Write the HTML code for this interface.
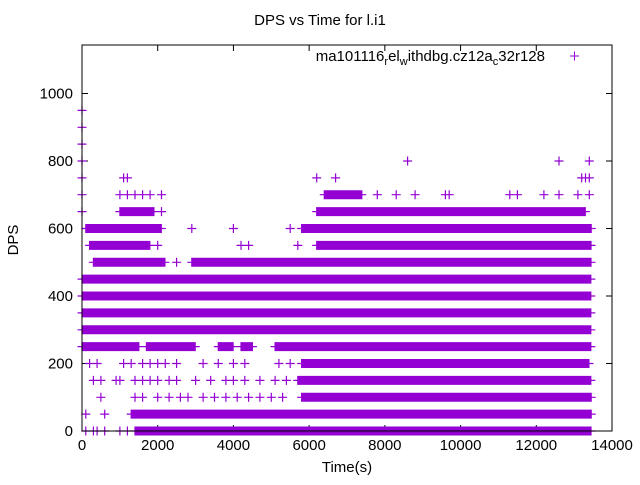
<!DOCTYPE html>
<html><head><meta charset="utf-8"><style>
body{margin:0;background:#fff}
svg{font-family:"Liberation Sans",sans-serif;font-size:15px}
</style></head><body>
<svg width="640" height="480" xmlns="http://www.w3.org/2000/svg">
<rect width="640" height="480" fill="#fff"/>
<text x="320" y="25" text-anchor="middle">DPS vs Time for l.i1</text>
<text x="18" y="240" text-anchor="middle" transform="rotate(-90 18 240)">DPS</text>
<text x="347" y="472" text-anchor="middle">Time(s)</text>
<g id="ticks"></g>
<path id="pts" fill="none" stroke="#9400d3" stroke-width="1.2"/>
<rect x="82" y="45" width="530" height="386" fill="none" stroke="#000" stroke-width="1"/>
<g>
<text x="545" y="61" text-anchor="end">ma101116<tspan font-size="11" dy="4">r</tspan><tspan dy="-4">el</tspan><tspan font-size="11" dy="4">w</tspan><tspan dy="-4">ithdbg.cz12a</tspan><tspan font-size="11" dy="4">c</tspan><tspan dy="-4">32r128</tspan></text>
<path d="M570 56h9M574.5 51.5v9" stroke="#9400d3"/>
</g>
<script>
const xTicks=[0,2000,4000,6000,8000,10000,12000,14000];
const yTicks=[0,200,400,600,800,1000];
const levels=[0,50,100,150,200,250,300,350,400,450,500,550,600,650,700,750,800,850,900,950];
const denseRuns=[
[[1400,13450]],
[[1300,13450]],
[[5800,13450]],
[[5700,13450]],
[[5800,13400]],
[[0,1500],[1700,3000],[3600,4000],[4200,4500],[5100,13450]],
[[0,13450]],
[[0,13450]],
[[0,13450]],
[[0,13450]],
[[300,2200],[2900,13450]],
[[200,1800],[6200,13450]],
[[100,2100],[5800,13450]],
[[1000,1900],[6200,13300]],
[[6400,7400]],
[],[],[],[],[]
];
const sparsePts=[
[100,300,400,600,1000,1200],
[100,600],
[500,1400,1600,2000,2300,2600,2800,3200,3500,3800,4100,4400,4700,5000,5300],
[300,500,900,1000,1400,1600,1800,2000,2300,2500,3000,3400,3800,4000,4300,4700,5100,5400],
[200,400,1100,1300,1600,1800,2000,2200,2500,3200,3600,4000,4300,5200,5500],
[],[],[],[],[],
[2500],
[2000,4200,4400,5700],
[2900,4000,5500],
[0,2100],
[0,1000,1200,1400,1600,1800,2100,7800,8300,8800,9600,9700,11300,11500,12200,12600,13100,13400],
[0,1100,1200,6200,6700,13200,13300,13400],
[0,8600,12600,13400],
[0],[0],[0]
];
const X=v=>82+v*530/14000;
const Y=v=>431-v*0.3375;
const tg=document.getElementById('ticks');
const NS='http://www.w3.org/2000/svg';
let td='';
xTicks.forEach(t=>{const x=X(t);td+=`M${x} 431v-6M${x} 45v6`;
const e=document.createElementNS(NS,'text');e.setAttribute('x',x);e.setAttribute('y',450);e.setAttribute('text-anchor','middle');e.textContent=t;


tg.appendChild(e);});
yTicks.forEach(t=>{const y=Y(t);td+=`M82 ${y}h6M612 ${y}h-6`;
const e=document.createElementNS(NS,'text');e.setAttribute('x',73);e.setAttribute('y',y+5);e.setAttribute('text-anchor','end');e.textContent=t;


tg.appendChild(e);});
const tp=document.createElementNS(NS,'path');tp.setAttribute('d',td);tp.setAttribute('stroke','#000');


tg.appendChild(tp);
let d='';
const cross=(t,l)=>{const x=X(t),y=Y(l);d+=`M${(x-4.5).toFixed(1)} ${y.toFixed(1)}h9M${x.toFixed(1)} ${(y-4.5).toFixed(1)}v9`;};
levels.forEach((l,i)=>{
denseRuns[i].forEach(r=>{for(let t=r[0];t<=r[1];t+=15)cross(t,l);});
sparsePts[i].forEach(t=>cross(t,l));
});
document.getElementById('pts').setAttribute('d',d);
</script>
</svg>
</body></html>
